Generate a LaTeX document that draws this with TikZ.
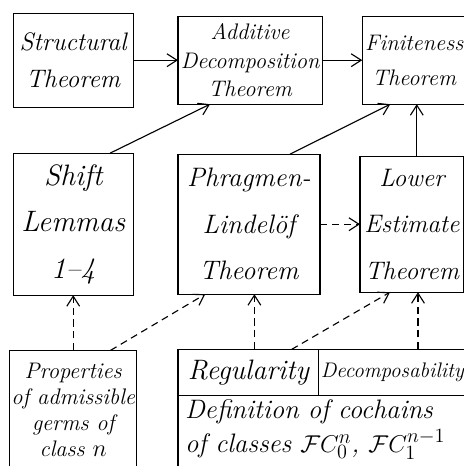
\documentclass[tikz,border=0pt]{standalone}
\usepackage{fontspec}
\usepackage{tikz}
\usetikzlibrary{arrows.meta,positioning}
\newcommand{\hand}[2]{\itshape\fontsize{#1}{#2}\selectfont}
\begin{document}
\begin{tikzpicture}[
    box/.style={draw, line width=0.8pt, outer sep=0pt, inner sep=2pt, align=center, font=\hand{16}{25}},
    arr/.style={-{Straight Barb[length=2.5mm,width=3.2mm]}, line width=0.8pt},
    darr/.style={arr, dash pattern=on 5pt off 3.5pt},
]
\clip (0,0) rectangle (11.6,-11.65);
% Top row
\node[box, anchor=north west, minimum width=3cm, minimum height=2.35cm, font=\hand{18}{27}] (struct) at (0.33,-0.33) {Structural\\Theorem};
\node[box, minimum width=3.55cm, minimum height=2.2cm, right=1.12cm of struct, font=\hand{16}{20.5}] (add) {Additive\\Decomposition\\Theorem};
\node[box, minimum width=2.6cm, minimum height=2.2cm, right=1cm of add] (fin) {Finiteness\\Theorem};
% Middle row
\node[box, minimum width=3cm, minimum height=3.55cm, below=1.15cm of struct, font=\hand{21}{33}] (shift) {Shift\\Lemmas\\1--4};
\node[box, minimum width=3.55cm, minimum height=3.5cm, right=1.12cm of shift, font=\hand{19}{33}] (phr) {Phragmen-\\Lindel\"of\\Theorem};
\node[box, minimum width=2.6cm, minimum height=3.4cm, right=1cm of phr, inner sep=1pt, font=\hand{18}{33}] (low) {Lower\\Estimate\\Theorem};
% Bottom row
\node[box, minimum width=3cm, minimum height=3cm, below=1.38cm of shift, inner sep=1pt, font=\hand{16}{18.5}] (prop) {Properties\\of admissible\\germs of\\class $n$};
\node[box, minimum width=3.52cm, minimum height=1.15cm, below=1.38cm of phr.south west, anchor=north west, font=\hand{20}{24}] (reg) {Regularity};
\node[box, minimum width=3.68cm, minimum height=1.15cm, right=0pt of reg, inner sep=1pt, font=\hand{15}{18}] (dec) {Decomposability};
\node[inner xsep=5pt, inner ysep=3pt, outer sep=0pt, text width=7.4cm, align=left, below=0pt of reg.south west, anchor=north west, font=\hand{19}{24}] (defn) {Definition of cochains\\of classes $\mathcal{F}C_0^n$, $\mathcal{F}C_1^{n-1}$};
\draw[line width=0.8pt] (reg.south west) -- ++(0,-3cm);
% Arrows
\coordinate (lowtop) at ([xshift=0.12cm]low.north);
\coordinate (lowbot) at ([xshift=0.15cm]low.south);
\coordinate (regtop) at ([xshift=0.15cm]reg.north);
\draw[arr] (struct) -- (add);
\draw[arr] (add) -- (fin);
\draw[arr] ([xshift=-0.58cm]shift.north east) -- ([xshift=0.8cm]add.south west);
\draw[arr] ([xshift=-0.75cm]phr.north east) -- ([xshift=0.7cm]fin.south west);
\draw[arr] (lowtop) -- (lowtop |- fin.south);
\draw[darr] (phr) -- (low);
\draw[darr] (prop.north) -- (prop.north |- shift.south);
\draw[darr] ([xshift=-0.65cm]prop.north east) -- ([xshift=0.68cm]phr.south west);
\draw[darr] (regtop) -- (regtop |- phr.south);
\draw[darr] ([xshift=-0.68cm]reg.north east) -- ([xshift=0.75cm]low.south west);
\draw[darr] (lowbot |- dec.north) -- (lowbot);
\end{tikzpicture}
\end{document}
